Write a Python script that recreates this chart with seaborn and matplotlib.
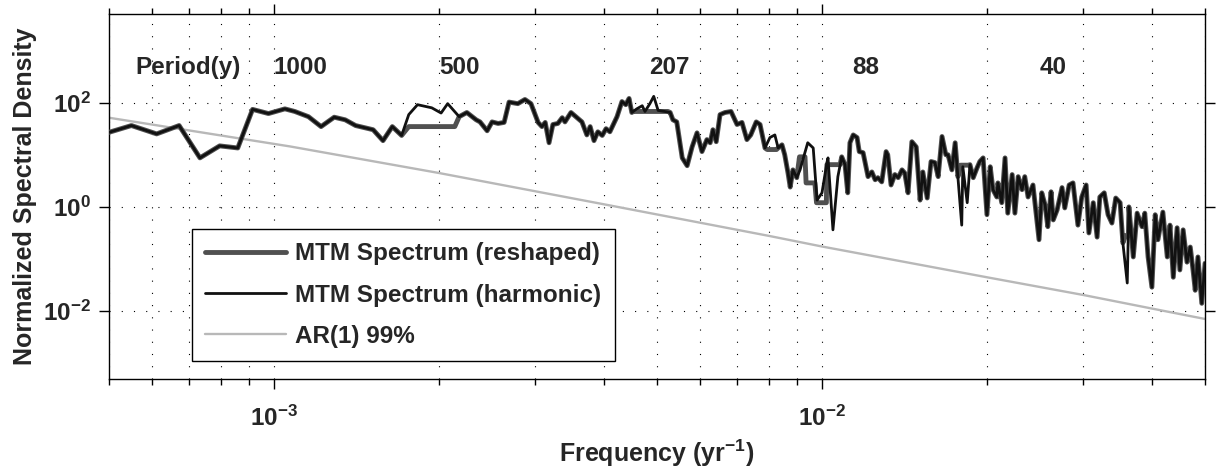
import numpy as np
import pandas as pd
import matplotlib
matplotlib.use("Agg")
import matplotlib.pyplot as plt
import seaborn as sns
from matplotlib.ticker import FixedLocator, LogLocator, NullLocator, FuncFormatter, NullFormatter

# values, stored as log10(frequency [1/yr]) and log10(density)
log_freq = [
    -3.301, -3.260, -3.214, -3.173, -3.135, -3.099, -3.066, -3.039, -3.010, -2.980,
    -2.962, -2.937, -2.914, -2.890, -2.870, -2.851, -2.819, -2.801, -2.784, -2.767,
    -2.754, -2.738, -2.712, -2.695, -2.683, -2.662, -2.648, -2.631, -2.624, -2.611,
    -2.602, -2.591, -2.580, -2.571, -2.555, -2.542, -2.531, -2.518, -2.511, -2.505,
    -2.498, -2.491, -2.482, -2.474, -2.469, -2.458, -2.438, -2.429, -2.423, -2.416,
    -2.409, -2.401, -2.394, -2.387, -2.374, -2.365, -2.358, -2.352, -2.347, -2.338,
    -2.328, -2.323, -2.314, -2.307, -2.299, -2.287, -2.277, -2.272, -2.265, -2.255,
    -2.246, -2.237, -2.228, -2.219, -2.210, -2.204, -2.199, -2.193, -2.186, -2.177,
    -2.166, -2.155, -2.146, -2.137, -2.130, -2.120, -2.113, -2.104, -2.095, -2.086,
    -2.080, -2.073, -2.068, -2.062, -2.058, -2.053, -2.046, -2.040, -2.035, -2.026,
    -2.016, -2.009, -2.000, -1.991, -1.989, -1.980, -1.971, -1.964, -1.958, -1.953,
    -1.949, -1.943, -1.936, -1.932, -1.925, -1.916, -1.909, -1.903, -1.898, -1.891,
    -1.883, -1.880, -1.874, -1.867, -1.861, -1.854, -1.849, -1.843, -1.836, -1.828,
    -1.821, -1.816, -1.808, -1.801, -1.794, -1.788, -1.781, -1.774, -1.770, -1.763,
    -1.757, -1.752, -1.745, -1.743, -1.735, -1.730, -1.724, -1.717, -1.712, -1.706,
    -1.699, -1.693, -1.688, -1.681, -1.679, -1.672, -1.666, -1.661, -1.653, -1.648,
    -1.642, -1.635, -1.630, -1.624, -1.615, -1.604, -1.599, -1.593, -1.588, -1.582,
    -1.578, -1.571, -1.562, -1.557, -1.549, -1.542, -1.533, -1.526, -1.518, -1.513,
    -1.505, -1.498, -1.493, -1.485, -1.478, -1.471, -1.464, -1.456, -1.451, -1.443,
    -1.440, -1.432, -1.425, -1.416, -1.411, -1.405, -1.398, -1.392, -1.387, -1.378,
    -1.370, -1.365, -1.359, -1.352, -1.347, -1.341, -1.334, -1.328, -1.323, -1.319,
    -1.314, -1.307, -1.301,
]
log_harmonic = [
    1.43, 1.56, 1.40, 1.56, 0.94, 1.17, 1.13, 1.87, 1.79, 1.88,
    1.83, 1.73, 1.54, 1.72, 1.67, 1.56, 1.48, 1.27, 1.54, 1.37,
    1.77, 1.96, 1.90, 1.80, 1.98, 1.73, 1.81, 1.67, 1.63, 1.46,
    1.63, 1.60, 1.62, 2.01, 1.98, 2.06, 1.98, 1.62, 1.54, 1.62,
    1.23, 1.58, 1.60, 1.71, 1.63, 1.81, 1.63, 1.38, 1.54, 1.27,
    1.44, 1.37, 1.50, 1.44, 1.73, 2.02, 1.96, 2.08, 1.81, 1.88,
    1.94, 1.83, 1.98, 2.12, 1.85, 1.83, 1.81, 1.67, 1.63, 0.94,
    0.79, 1.15, 1.42, 1.06, 1.29, 1.23, 1.48, 1.25, 1.77, 1.81,
    1.83, 1.58, 1.62, 1.29, 1.38, 1.63, 1.58, 1.13, 1.33, 1.38,
    1.13, 1.19, 1.00, 0.65, 0.38, 0.71, 0.56, 0.71, 0.90, 1.23,
    1.13, 0.13, 0.27, 0.85, 0.94, -0.44, 0.58, 0.96, 0.81, 0.27,
    1.23, 1.38, 1.33, 1.06, 1.04, 0.58, 0.67, 0.52, 0.56, 0.48,
    1.06, 1.00, 0.42, 0.62, 0.56, 0.71, 0.65, 0.27, 1.25, 1.15,
    0.13, 0.67, 0.17, 0.87, 0.85, 0.58, 1.35, 1.00, 1.00, 0.71,
    1.23, 0.58, -0.35, 0.77, 0.08, 0.81, 0.56, 0.75, 0.87, 0.94,
    -0.15, 0.77, 0.33, 0.19, 0.46, 0.08, 0.94, -0.12, 0.62, -0.12,
    0.58, 0.33, 0.58, 0.19, 0.42, -0.63, 0.27, 0.04, -0.38, 0.29,
    -0.25, -0.06, 0.37, -0.02, 0.42, 0.46, -0.35, 0.19, 0.42, -0.50,
    0.08, -0.58, 0.19, 0.27, -0.15, -0.31, 0.17, 0.08, -0.69, -1.46,
    0.00, -0.96, -0.12, -0.38, -0.12, -0.96, -1.54, -0.15, -0.63, -0.10,
    -0.96, -0.35, -1.35, -0.40, -1.21, -0.44, -1.06, -0.77, -1.21, -1.60,
    -0.96, -1.85, -1.08,
]
# reshaped spectrum = harmonic spectrum with these bands flattened (lo, hi, level)
reshaped_flats = [
    (-2.754, -2.670, 1.54),
    (-2.345, -2.281, 1.83),
    (-2.100, -2.083, 1.10),
    (-2.041, -2.031, 0.96),
    (-2.029, -2.013, 0.46),
    (-2.010, -1.992, 0.08),
    (-1.991, -1.967, 0.81),
    (-1.747, -1.733, 0.80),
    (-1.446, -1.441, -0.55),
]
ar1_log_freq = [-3.301, -2.971, -2.699, -2.398, -2.095, -2.000, -1.699, -1.523, -1.398, -1.301]
ar1_log_level = [1.71, 1.16, 0.65, 0.05, -0.56, -0.76, -1.35, -1.69, -1.95, -2.15]

period_years = [1000, 500, 207, 88, 40]

lf = np.array(log_freq)
ls = np.array(log_harmonic)
keep = np.ones(len(lf), dtype=bool)
ex_f, ex_s = [], []
for lo, hi, lvl in reshaped_flats:
    keep &= ~((lf >= lo) & (lf <= hi))
    ex_f += [lo, hi]
    ex_s += [lvl, lvl]
rf = np.concatenate([lf[keep], ex_f])
rs = np.concatenate([ls[keep], ex_s])
order = np.argsort(rf)

harm = pd.DataFrame({"freq": 10 ** lf, "psd": 10 ** ls})
resh = pd.DataFrame({"freq": 10 ** rf[order], "psd": 10 ** rs[order]})
ar1 = pd.DataFrame({"freq": 10 ** np.array(ar1_log_freq), "psd": 10 ** np.array(ar1_log_level)})

sns.set_theme(style="ticks")
plt.rcParams["font.family"] = ["Liberation Sans", "DejaVu Sans"]
plt.rcParams["font.weight"] = "bold"
plt.rcParams["mathtext.fontset"] = "custom"
plt.rcParams["mathtext.rm"] = "Liberation Sans:bold"
plt.rcParams["mathtext.bf"] = "Liberation Sans:bold"
plt.rcParams["mathtext.it"] = "Liberation Sans:bold"
plt.rcParams["mathtext.default"] = "bf"

FS = 17.5

fig = plt.figure(figsize=(12.16, 4.69), dpi=100)
ax = fig.add_axes([0.0896, 0.1919, 0.9014, 0.7782])

sns.lineplot(data=resh, x="freq", y="psd", ax=ax, color="#505050", lw=3.5,
             sort=False, estimator=None, label="MTM Spectrum (reshaped)", zorder=3)
sns.lineplot(data=harm, x="freq", y="psd", ax=ax, color="#111111", lw=2.0,
             sort=False, estimator=None, label="MTM Spectrum (harmonic)", zorder=4)
sns.lineplot(data=ar1, x="freq", y="psd", ax=ax, color="#b8b8b8", lw=1.7,
             sort=False, estimator=None, label="AR(1) 99%", zorder=2)

ax.set_xscale("log")
ax.set_yscale("log")
ax.set_xlim(5e-4, 5e-2)
ax.set_ylim(5e-4, 5e3)

fmt = FuncFormatter(lambda v, p: r"$\mathbf{10^{%d}}$" % round(np.log10(v)))
ax.xaxis.set_major_locator(LogLocator(base=10))
ax.xaxis.set_minor_locator(LogLocator(base=10, subs=np.arange(2, 10)))
ax.xaxis.set_major_formatter(fmt)
ax.xaxis.set_minor_formatter(NullFormatter())
ax.yaxis.set_major_locator(FixedLocator([1e-2, 1, 1e2]))
ax.yaxis.set_minor_locator(NullLocator())
ax.yaxis.set_major_formatter(fmt)

ax.grid(True, which="both", axis="x", color="black", lw=0.8, ls=(0, (1, 10)))
ax.grid(True, which="major", axis="y", color="black", lw=0.8, ls=(0, (1, 10)))
ax.set_axisbelow(True)

ax.tick_params(which="both", direction="out", top=True, right=True,
               labelsize=FS, width=1, color="black")
ax.tick_params(which="major", length=7)
ax.tick_params(axis="x", which="major", pad=12)
ax.tick_params(axis="y", which="major", pad=6)
ax.tick_params(which="minor", length=4)
for sp in ax.spines.values():
    sp.set_visible(True)
    sp.set_color("black")
    sp.set_linewidth(1.0)

for p in period_years:
    ax.text(1.0 / p, 468, str(p), ha="left", va="center", fontsize=FS, fontweight="bold")
ax.text(5.58e-4, 468, "Period(y)", ha="left", va="center", fontsize=FS, fontweight="bold")

ax.set_xlabel(r"Frequency (yr$^{-1}$)", fontsize=18, fontweight="bold", labelpad=5)
ax.set_ylabel("Normalized Spectral Density", fontsize=18, fontweight="bold", labelpad=4)

leg = ax.legend(loc="lower left", bbox_to_anchor=(0.0757, 0.049), borderaxespad=0,
                frameon=True, fancybox=False, edgecolor="black", framealpha=1,
                handlelength=3.3, handletextpad=0.4, labelspacing=0.75, borderpad=0.55,
                prop={"weight": "bold", "size": FS})
leg.get_frame().set_linewidth(1.0)
leg.set_zorder(10)

fig.savefig("out.png", dpi=100)
